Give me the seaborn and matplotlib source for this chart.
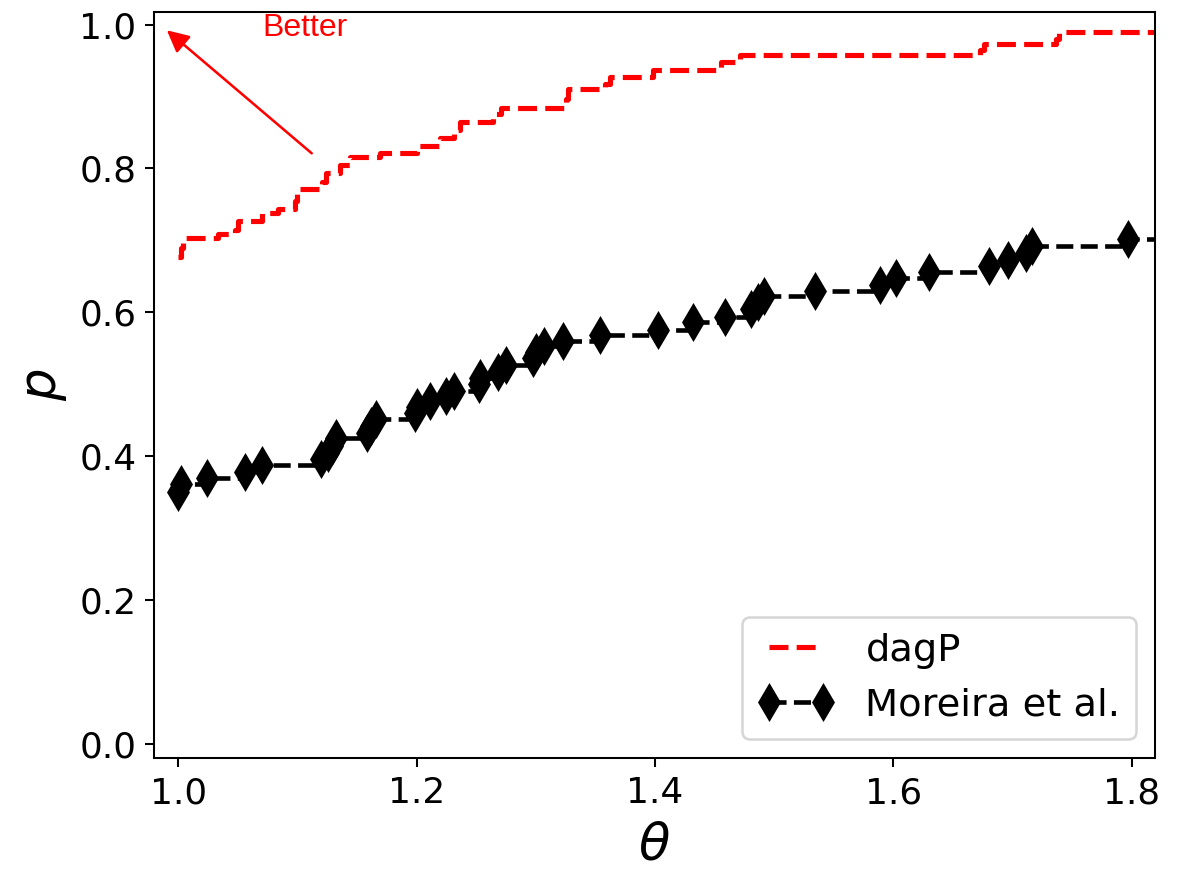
import numpy as np
import pandas as pd
import matplotlib
matplotlib.use("Agg")
import matplotlib.pyplot as plt
import seaborn as sns

# dagP performance profile (step points)
dagp_theta = [1.000, 1.002, 1.004, 1.033, 1.048, 1.050, 1.070, 1.084, 1.098, 1.100,
              1.121, 1.124, 1.136, 1.144, 1.169, 1.200, 1.2195, 1.231, 1.236, 1.264,
              1.271, 1.325, 1.327, 1.358, 1.362, 1.398, 1.455, 1.471, 1.673, 1.676,
              1.736, 1.739, 1.830]
dagp_p = [0.677, 0.690, 0.703, 0.709, 0.715, 0.727, 0.738, 0.744, 0.755, 0.772,
          0.781, 0.793, 0.805, 0.816, 0.822, 0.831, 0.842, 0.853, 0.865, 0.875,
          0.884, 0.897, 0.910, 0.918, 0.927, 0.937, 0.948, 0.957, 0.965, 0.973,
          0.980, 0.989, 0.989]

# Moreira et al. performance profile
mor_theta = [1.000, 1.002, 1.024, 1.056, 1.070, 1.120, 1.126, 1.129, 1.132, 1.158,
             1.162, 1.166, 1.199, 1.200, 1.211, 1.225, 1.231, 1.252, 1.253, 1.268,
             1.275, 1.298, 1.300, 1.307, 1.3225, 1.354, 1.4026, 1.4315, 1.4587, 1.4805,
             1.4867, 1.4914, 1.534, 1.589, 1.602, 1.630, 1.680, 1.6957, 1.711, 1.716,
             1.797, 1.870]
mor_p = [0.350, 0.362, 0.370, 0.378, 0.388, 0.396, 0.405, 0.414, 0.425, 0.432,
         0.442, 0.451, 0.460, 0.469, 0.476, 0.483, 0.491, 0.501, 0.508, 0.517,
         0.527, 0.536, 0.545, 0.553, 0.560, 0.569, 0.576, 0.587, 0.594, 0.604,
         0.614, 0.622, 0.630, 0.638, 0.647, 0.656, 0.665, 0.673, 0.683, 0.692,
         0.702, 0.702]

series_labels = ["dagP", "Moreira et al."]
x_ticks = [1.0, 1.2, 1.4, 1.6, 1.8]
y_ticks = [0.0, 0.2, 0.4, 0.6, 0.8, 1.0]

fig = plt.figure(figsize=(6.4, 4.7675), dpi=184.375)
ax = fig.add_axes([0.1308, 0.1373, 0.9788 - 0.1308, 0.986 - 0.1373])

sns.lineplot(x=dagp_theta, y=dagp_p, ax=ax, drawstyle="steps-post", color="red",
             linestyle="--", linewidth=2.0, label=series_labels[0],
             estimator=None, sort=False)
sns.lineplot(x=mor_theta, y=mor_p, ax=ax, drawstyle="steps-post", color="black",
             linestyle="--", linewidth=1.8, marker="d", markersize=9.5,
             markeredgecolor="black", markeredgewidth=1.0,
             label=series_labels[1], estimator=None, sort=False)

ax.set_xlim(0.98, 1.8194)
ax.set_ylim(-0.02, 1.017)
ax.set_xticks(x_ticks)
ax.set_yticks(y_ticks)
ax.tick_params(labelsize=14)
ax.set_xlabel(r"$\theta$", fontsize=20)
ax.set_ylabel(r"$p$", fontsize=20)

ax.annotate("", xy=(0.9905, 0.992), xytext=(1.112, 0.821),
            arrowprops=dict(arrowstyle="-|>,head_length=0.6,head_width=0.3",
                            color="red", lw=1.0, mutation_scale=12,
                            shrinkA=0, shrinkB=0))
ax.text(1.1065, 0.995, "Better", color="red", fontsize=12.5,
        family=["Liberation Sans", "DejaVu Sans"], ha="center", va="center")

ax.legend(loc="lower right", fontsize=15, numpoints=2)

fig.savefig("out.png", dpi=184.375)
